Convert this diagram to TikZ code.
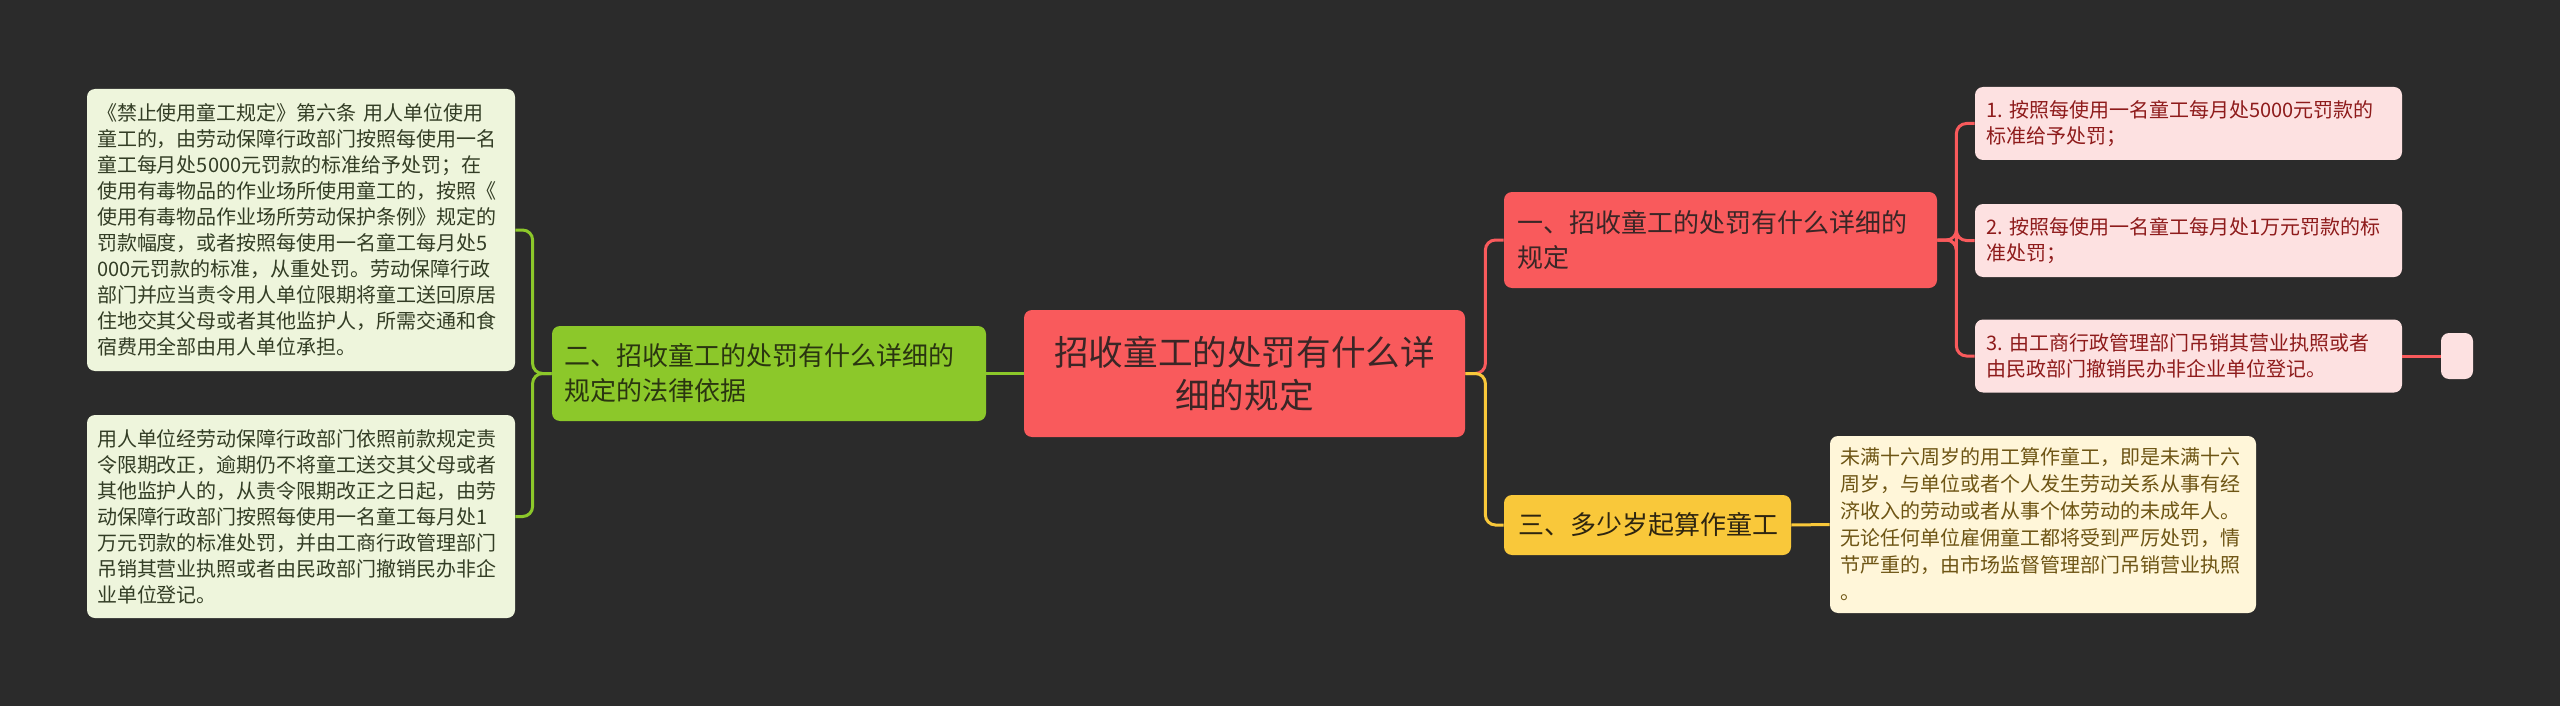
\documentclass[tikz,border=0pt]{standalone}
\usepackage{fontspec}
\setmainfont{Noto Sans CJK SC}
\frenchspacing
\definecolor{bgdark}{HTML}{2B2B2B}
\definecolor{rootred}{HTML}{F95A5C}
\definecolor{roottext}{HTML}{3A2626}
\definecolor{limegreen}{HTML}{8CC82A}
\definecolor{limetext}{HTML}{2A3510}
\definecolor{goldyellow}{HTML}{F9C83A}
\definecolor{goldtext}{HTML}{2E2510}
\definecolor{pinkleaf}{HTML}{FDE1E1}
\definecolor{pinktext}{HTML}{8E1B1B}
\definecolor{mintleaf}{HTML}{EEF5DC}
\definecolor{minttext}{HTML}{333D25}
\definecolor{creamleaf}{HTML}{FFF6D9}
\definecolor{creamtext}{HTML}{6E5514}

\begin{document}
\begin{tikzpicture}[x=0.5pt, y=-0.5pt,
    box/.style={rounded corners=4pt, inner ysep=0pt, align=left},
    leaf/.style={box, font=\fontsize{10pt}{13pt}\selectfont},
    branch/.style={box, font=\fontsize{13pt}{17.5pt}\selectfont},
    link/.style={line width=1.5pt, rounded corners=5pt}]
  \fill [bgdark] (0, 0) rectangle (2560, 706);
  \useasboundingbox (0, 0) rectangle (2560, 706);

  % centre
  \node [box, fill=rootred, text=roottext, align=center, text width=200pt, inner xsep=10.25pt,
    minimum height=63.5pt, font=\fontsize{17.3pt}{21.5pt}\selectfont] (root) at (1244.5, 373.5)
    {招收童工的处罚有什么详\\细的规定};

  % branches
  \node [branch, fill=rootred, text=roottext, text width=203.5pt, inner xsep=6.5pt,
    minimum height=48pt] (b1) at (1720.5, 240) {一、招收童工的处罚有什么详细的\\规定};
  \node [branch, fill=limegreen, text=limetext, text width=205pt, inner xsep=6pt,
    minimum height=47.5pt] (b2) at (769, 373.5) {二、招收童工的处罚有什么详细的\\规定的法律依据};
  \node [branch, fill=goldyellow, text=goldtext, text width=129.5pt, inner xsep=7pt,
    minimum height=30pt] (b3) at (1647.5, 525) {三、多少岁起算作童工};

  % leaves of b1
  \node [leaf, fill=pinkleaf, text=pinktext, text width=202.5pt, inner xsep=5.5pt,
    minimum height=36.5pt] (l1a) at (2188.5, 123.5)
    {1. 按照每使用一名童工每月处5000元罚款的\\标准给予处罚；};
  \node [leaf, fill=pinkleaf, text=pinktext, text width=202.5pt, inner xsep=5.5pt,
    minimum height=36.5pt] (l1b) at (2188.5, 240.5)
    {2. 按照每使用一名童工每月处1万元罚款的标\\准处罚；};
  \node [leaf, fill=pinkleaf, text=pinktext, text width=202.5pt, inner xsep=5.5pt,
    minimum height=36.5pt] (l1c) at (2188.5, 356)
    {3. 由工商行政管理部门吊销其营业执照或者\\由民政部门撤销民办非企业单位登记。};
  \node [box, fill=pinkleaf, minimum width=16pt, minimum height=23pt, inner sep=0pt] (l1dot) at (2457, 356) {};

  % leaves of b2
  \node [leaf, fill=mintleaf, text=minttext, text width=204pt, inner xsep=5pt,
    minimum height=141pt] (l2a) at (301, 230)
    {《禁止使用童工规定》第六条 用人单位使用\\童工的，由劳动保障行政部门按照每使用一名\\童工每月处5000元罚款的标准给予处罚；在\\使用有毒物品的作业场所使用童工的，按照《\\使用有毒物品作业场所劳动保护条例》规定的\\罚款幅度，或者按照每使用一名童工每月处5\\000元罚款的标准，从重处罚。劳动保障行政\\部门并应当责令用人单位限期将童工送回原居\\住地交其父母或者其他监护人，所需交通和食\\宿费用全部由用人单位承担。};
  \node [leaf, fill=mintleaf, text=minttext, text width=204pt, inner xsep=5pt,
    minimum height=101.5pt] (l2b) at (301, 516.5)
    {用人单位经劳动保障行政部门依照前款规定责\\令限期改正，逾期仍不将童工送交其父母或者\\其他监护人的，从责令限期改正之日起，由劳\\动保障行政部门按照每使用一名童工每月处1\\万元罚款的标准处罚，并由工商行政管理部门\\吊销其营业执照或者由民政部门撤销民办非企\\业单位登记。};

  % leaf of b3
  \node [leaf, fill=creamleaf, text=creamtext, text width=203pt, inner xsep=5pt,
    minimum height=88.5pt, font=\fontsize{10pt}{13.5pt}\selectfont] (l3) at (2043, 524.5)
    {未满十六周岁的用工算作童工，即是未满十六\\周岁，与单位或者个人发生劳动关系从事有经\\济收入的劳动或者从事个体劳动的未成年人。\\无论任何单位雇佣童工都将受到严厉处罚，情\\节严重的，由市场监督管理部门吊销营业执照\\。};

  % connectors
  \draw [link, rootred] (root.east) -- ++(20, 0) |- (b1.west);
  \draw [link, goldyellow] (root.east) -- ++(20, 0) |- (b3.west);
  \draw [link, limegreen] (root.west) -- (b2.east);
  \draw [link, rootred] (b1.east) -- ++(19, 0) |- (l1a.west);
  \draw [link, rootred] (b1.east) -- ++(19, 0) |- (l1b.west);
  \draw [link, rootred] (b1.east) -- ++(19, 0) |- (l1c.west);
  \draw [link, rootred] (l1c.east) -- (l1dot.west);
  \draw [link, limegreen] (b2.west) -- ++(-19, 0) |- (l2a.east);
  \draw [link, limegreen] (b2.west) -- ++(-19, 0) |- (l2b.east);
  \draw [link, goldyellow] (b3.east) -- (l3.west);
\end{tikzpicture}
\end{document}
